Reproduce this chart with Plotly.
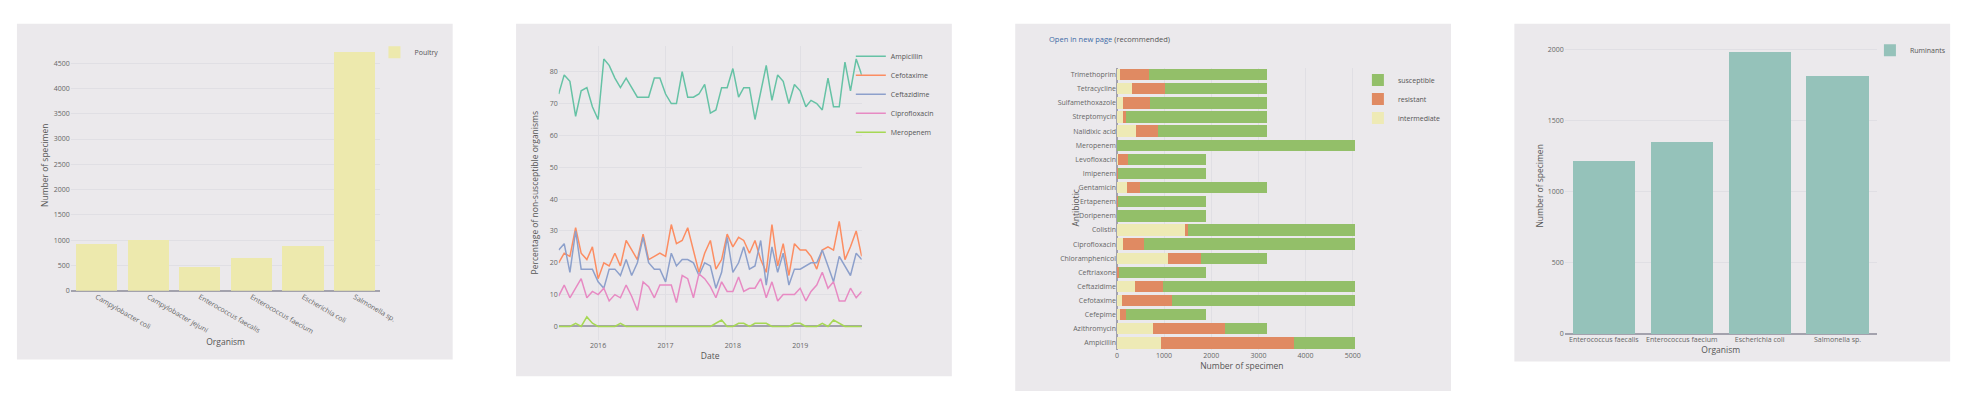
import plotly.graph_objects as go
import pandas as pd

W, H = 1974, 396

# ---------------- Panel 1: Poultry ----------------
poultry_organisms = ["Campylobacter coli", "Campylobacter jejuni", "Enterococcus faecalis",
                     "Enterococcus faecium", "Escherichia coli", "Salmonella sp."]
poultry_counts = [920, 1000, 476, 646, 887, 4716]

# ---------------- Panel 2: monthly % non-susceptible ----------------
months = pd.date_range("2015-06-01", "2019-12-01", freq="MS")
ampicillin = [73, 79, 77, 66, 74, 75, 69, 65, 84, 82, 78, 75, 78, 75, 72, 72, 72, 78, 78, 73,
              70, 70, 80, 72, 72, 73, 76, 67, 68, 75, 75, 81, 72, 75, 75, 65, 74, 82, 71, 79,
              77, 70, 76, 74, 69, 71, 70, 68, 78, 69, 69, 83, 74, 84, 79]
cefotaxime = [20, 23, 22, 31, 23, 21, 25, 15, 20, 19, 23, 19, 27, 24, 21, 29, 21, 22, 23, 22,
              32, 26, 27, 31, 24, 17, 23, 27, 18, 21, 29, 25, 28, 27, 23, 27, 21, 17, 32, 19,
              26, 16, 26, 24, 24, 22, 18, 24, 25, 24, 33, 21, 25, 30, 22]
ceftazidime = [24, 26, 17, 30, 18, 18, 18, 14, 12, 18, 18, 16, 21, 16, 20, 28, 20, 18, 18, 14,
               23, 19, 21, 21, 20, 16, 20, 19, 12, 17, 28, 17, 20, 25, 18, 19, 27, 13, 25, 17,
               23, 13, 18, 18, 19, 20, 20, 24, 19, 14, 22, 19, 16, 23, 21]
ciprofloxacin = [9.5, 13, 9, 12, 15, 9, 11, 10, 12, 8, 10, 9, 13, 9.5, 5, 14, 12.5, 9, 13, 13,
                 13, 7.5, 16, 15, 9, 16.5, 15, 12.5, 9, 14, 11, 11, 15.5, 11, 12, 12, 15, 9, 14, 8,
                 10, 10, 10, 12, 8, 11, 13, 17, 12, 14, 8, 8, 12, 9, 11]
meropenem = [0, 0, 0, 1, 0, 3, 1, 0, 0, 0, 0, 1, 0, 0, 0, 0, 0, 0, 0, 0,
             0, 0, 0, 0, 0, 0, 0, 0, 1, 2, 0, 0, 1, 1, 0, 1, 1, 1, 0, 0,
             0, 0, 1, 1, 0, 0, 0, 1, 0, 2, 1, 0, 0, 0, 0]
line_series = ["Ampicillin", "Cefotaxime", "Ceftazidime", "Ciprofloxacin", "Meropenem"]
line_colors = ["#66c2a5", "#fc8d62", "#8da0cb", "#e78ac3", "#a6d854"]

# ---------------- Panel 3: stacked horizontal bars ----------------
antibiotics = ["Ampicillin", "Azithromycin", "Cefepime", "Cefotaxime", "Ceftazidime", "Ceftriaxone",
               "Chloramphenicol", "Ciprofloxacin", "Colistin", "Doripenem", "Ertapenem", "Gentamicin",
               "Imipenem", "Levofloxacin", "Meropenem", "Nalidixic acid", "Streptomycin",
               "Sulfamethoxazole", "Tetracycline", "Trimethoprim"]
intermediate = [936, 755, 63, 97, 384, 0, 1076, 132, 1433, 0, 0, 209, 0, 15, 0, 398, 118, 139, 314, 70]
resistant = [2819, 1545, 138, 1077, 588, 48, 714, 448, 84, 10, 25, 273, 25, 229, 10, 468, 83, 566, 699, 607]
susceptible = [1295, 880, 1689, 3876, 4078, 1842, 1390, 4470, 3533, 1880, 1865, 2698, 1865, 1646,
               5040, 2314, 2979, 2475, 2167, 2503]

# ---------------- Panel 4: Ruminants ----------------
ruminant_organisms = ["Enterococcus faecalis", "Enterococcus faecium", "Escherichia coli", "Salmonella sp."]
ruminant_counts = [1219, 1354, 1986, 1816]

BG = "#ebe9ec"
GRID = "#e0dfe4"
ZERO = "#a3a2ad"
FONT = "Open Sans"


def px(x):
    return x / W


def py(y):
    return 1 - y / H


fig = go.Figure()

fig.add_trace(go.Bar(x=poultry_organisms, y=poultry_counts, name="Poultry",
                     marker=dict(color="#ede9ad", line=dict(width=0)),
                     xaxis="x", yaxis="y", legend="legend", showlegend=True))

for name, vals, col in zip(line_series, [ampicillin, cefotaxime, ceftazidime, ciprofloxacin, meropenem],
                           line_colors):
    fig.add_trace(go.Scatter(x=months, y=vals, name=name, mode="lines",
                             line=dict(color=col, width=1.5),
                             xaxis="x2", yaxis="y2", legend="legend2"))

for name, vals, col in [("intermediate", intermediate, "#eeeab5"),
                        ("resistant", resistant, "#e08a62"),
                        ("susceptible", susceptible, "#93bf69")]:
    fig.add_trace(go.Bar(y=antibiotics, x=vals, name=name, orientation="h",
                         marker=dict(color=col, line=dict(width=0)),
                         xaxis="x3", yaxis="y3", legend="legend3"))

fig.add_trace(go.Bar(x=ruminant_organisms, y=ruminant_counts, name="Ruminants",
                     marker=dict(color="#95c2ba", line=dict(width=0)),
                     xaxis="x4", yaxis="y4", legend="legend4"))

tickf = dict(family=FONT, size=7, color="#666666")
titlef = dict(family=FONT, size=8.5, color="#555555")

common_x = dict(tickfont=tickf, showline=False, zeroline=False, ticks="")
common_y = dict(tickfont=tickf, showline=False, ticks="", gridcolor=GRID, gridwidth=1)

panels = [(7, 16, 447, 355), (511, 16, 951, 372), (1015, 16, 1455, 387), (1519, 16, 1959, 357)]
shapes = [dict(type="rect", xref="paper", yref="paper", x0=px(a), x1=px(c), y0=py(d), y1=py(b),
               fillcolor=BG, line=dict(width=0), layer="below") for a, b, c, d in panels]

legend_common = dict(font=dict(family=FONT, size=7, color="#555555"), bgcolor="rgba(0,0,0,0)",
                     xref="paper", yref="paper", xanchor="left", yanchor="top")

fig.update_layout(
    width=W, height=H,
    margin=dict(l=0, r=0, t=0, b=0),
    paper_bgcolor="#ffffff", plot_bgcolor=BG,
    font=dict(family=FONT, color="#555555"),
    barmode="stack", bargap=0.2,
    showlegend=True,
    shapes=shapes,
    xaxis=dict(domain=[px(61.4), px(374)], anchor="y", tickangle=30, showgrid=False,
               title=dict(text="Organism", font=titlef, standoff=4), **common_x),
    yaxis=dict(domain=[py(285.7), py(32)], anchor="x", range=[0, 4964], dtick=500,
               zeroline=True, zerolinecolor=ZERO, zerolinewidth=1.5,
               title=dict(text="Number of specimen", font=titlef, standoff=3), **common_y),
    xaxis2=dict(domain=[px(554), px(860)], anchor="y2", type="date",
                range=["2015-06-01", "2019-12-01"], dtick="M12", tick0="2016-01-01", tickformat="%Y",
                showgrid=True, gridcolor=GRID,
                title=dict(text="Date", font=titlef, standoff=4), **common_x),
    yaxis2=dict(domain=[py(335.2), py(38)], anchor="x2", range=[-4.2, 88.2], dtick=10,
                zeroline=True, zerolinecolor=ZERO, zerolinewidth=1.5,
                title=dict(text="Percentage of non-susceptible organisms", font=titlef, standoff=9),
                **common_y),
    xaxis3=dict(domain=[px(1117.7), px(1370)], anchor="y3", range=[0, 5300], dtick=1000,
                showgrid=True, gridcolor=GRID,
                title=dict(text="Number of specimen", font=titlef, standoff=0),
                tickfont=tickf, showline=False, ticks="",
                zeroline=True, zerolinecolor=ZERO, zerolinewidth=1.5),
    yaxis3=dict(domain=[py(345.5), py(60.2)], anchor="x3", showgrid=False, zeroline=False,
                tickfont=tickf, ticks="", showline=False),
    xaxis4=dict(domain=[px(1570), px(1884.7)], anchor="y4", showgrid=False,
                title=dict(text="Organism", font=titlef, standoff=3), **common_x),
    yaxis4=dict(domain=[py(329.3), py(30)], anchor="x4", range=[0, 2086], dtick=500,
                zeroline=True, zerolinecolor=ZERO, zerolinewidth=1.5,
                title=dict(text="Number of specimen", font=titlef, standoff=2), **common_y),
    legend=dict(x=px(368), y=py(30), **legend_common),
    legend2=dict(x=px(849), y=py(34), **legend_common),
    legend3=dict(x=px(1361), y=py(58), traceorder="reversed", **legend_common),
    legend4=dict(x=px(1878), y=py(28), **legend_common),
    annotations=[
        dict(text="<span style='color:#3d6aa6'>Open in new page</span> (recommended)",
             xref="paper", yref="paper", x=px(1047), y=py(31), xanchor="left", yanchor="middle",
             showarrow=False, font=dict(family=FONT, size=7.5, color="#555555")),
        dict(text="Antibiotic", xref="paper", yref="paper", x=px(1076), y=py(202), textangle=-90,
             xanchor="center", yanchor="middle", showarrow=False, font=titlef),
    ],
)

fig.write_html("out.html")
